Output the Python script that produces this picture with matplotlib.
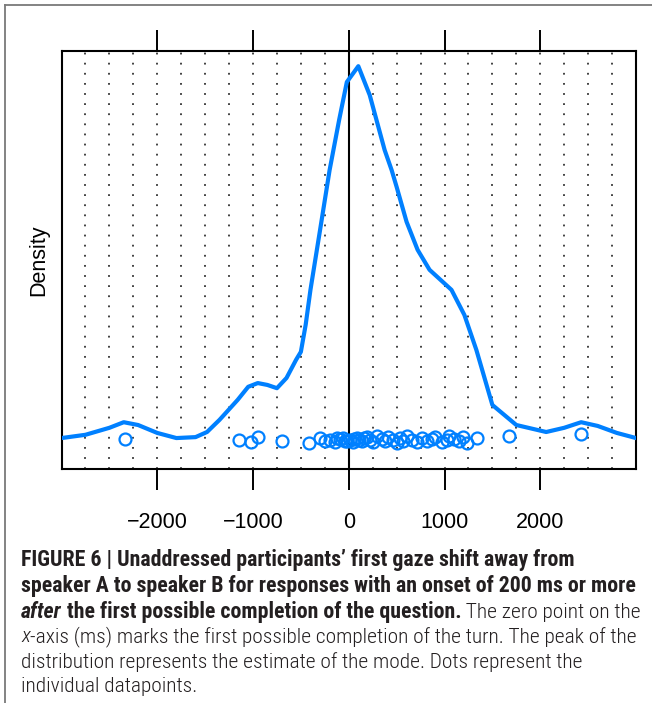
import numpy as np
import matplotlib
matplotlib.use("Agg")
import matplotlib.pyplot as plt
from matplotlib.lines import Line2D
from matplotlib.ticker import MultipleLocator
from matplotlib import font_manager as fm
from matplotlib.font_manager import FontProperties

# density curve (x in ms, density in arbitrary units)
curve_ms = [-3000, -2750, -2500, -2350, -2200, -2000, -1800, -1600, -1480, -1350,
            -1160, -1050, -950, -850, -750, -650, -550, -500, -450, -400,
            -300, -200, -100, -20, 100, 219, 375, 448, 500, 604,
            719, 844, 1073, 1208, 1333, 1500, 1750, 2062, 2250, 2427,
            2600, 2800, 3000]
curve_density = [0.02, 0.09, 0.24, 0.36, 0.30, 0.13, 0.02, 0.04, 0.15, 0.41,
                 0.84, 1.12, 1.20, 1.16, 1.09, 1.31, 1.70, 1.87, 2.45, 3.20,
                 4.48, 5.77, 6.85, 7.66, 8.00, 7.38, 6.20, 5.77, 5.41, 4.66,
                 4.06, 3.63, 3.20, 2.66, 1.91, 0.73, 0.30, 0.15, 0.24, 0.36,
                 0.28, 0.13, 0.02]

# individual datapoints (ms) and their vertical jitter
points_ms = [-2333, -1146, -1021, -948, -698, -417, -302, -250, -198, -146,
             -120, -94, -63, -40, -21, 10, 42, 60, 83, 110,
             135, 160, 188, 219, 250, 292, 344, 375, 406, 458,
             500, 531, 563, 604, 656, 708, 760, 813, 865, 896,
             969, 1021, 1052, 1104, 1156, 1188, 1240, 1344, 1677, 2427]
points_jitter = [0.00, -0.02, -0.06, 0.04, -0.04, -0.09, 0.02, -0.04, -0.02, -0.06,
                 0.03, 0.00, 0.02, -0.05, -0.04, -0.02, -0.06, 0.01, 0.02, -0.03,
                 -0.04, 0.03, 0.04, -0.02, -0.06, 0.06, 0.00, -0.04, 0.04, -0.02,
                 -0.09, 0.02, -0.04, 0.06, -0.02, -0.06, 0.02, -0.04, 0.00, 0.04,
                 -0.06, -0.02, 0.06, 0.00, -0.04, 0.04, -0.09, 0.02, 0.06, 0.11]

xticks = [-2000, -1000, 0, 1000, 2000]
xtick_labels = ["\u22122000", "\u22121000", "0", "1000", "2000"]

blue = "#0080ff"
W, H = 652, 703

fig = plt.figure(figsize=(W / 100, H / 100), dpi=100)
ax = fig.add_axes([61.5 / W, 1 - 469 / H, (636 - 61.5) / W, (469 - 51) / H])

ax.plot(curve_ms, curve_density, color=blue, lw=3.0, solid_joinstyle="round", zorder=3)
ax.plot(points_ms, points_jitter, "o", mfc="none", mec=blue, mew=1.6, ms=8.6, zorder=4)

ax.set_xlim(-3000, 3000)
ax.set_ylim(-0.644, 8.326)

# dotted reference lines every 250 ms, solid line at zero
ax.xaxis.set_minor_locator(MultipleLocator(250))
ax.grid(which="both", axis="x", color="#333333", lw=1.3, ls=(0, (1, 4.6)))
ax.axvline(0, color="black", lw=1.5, zorder=2)

ax.set_xticks(xticks)
ax.set_xticklabels(xtick_labels, fontsize=15.5, family=["Liberation Sans", "DejaVu Sans"])
ax.tick_params(axis="x", which="major", top=True, bottom=True, direction="out",
               length=15, width=1.4, pad=16)
ax.tick_params(axis="x", which="minor", length=0)
ax.set_yticks([])
for s in ax.spines.values():
    s.set_linewidth(1.5)

ax.set_ylabel("Density", fontsize=15.5, family=["Liberation Sans", "DejaVu Sans"], labelpad=9)

# frame round the figure
fig.add_artist(Line2D([5 / W, 1], [1 - 5 / H, 1 - 5 / H], transform=fig.transFigure,
                      color="#7a7a7a", lw=1.3))
fig.add_artist(Line2D([5 / W, 5 / W], [0, 1 - 5 / H], transform=fig.transFigure,
                      color="#7a7a7a", lw=1.3))

# caption font: a condensed face if one is installed
condensed = {"ultra-condensed", "extra-condensed", "condensed", "semi-condensed"}
cond_families = {f.name for f in fm.fontManager.ttflist if str(f.stretch) in condensed}
cap_family = "Liberation Sans"
for name in ["Liberation Sans Narrow", "Roboto Condensed", "Noto Sans", "Open Sans",
             "DejaVu Sans"]:
    if name in cond_families:
        cap_family = name
        break
cap_stretch = "condensed" if cap_family in cond_families else "normal"
cap_color = "#231f20"


def cap_font(weight, style, size):
    return FontProperties(family=cap_family, stretch=cap_stretch, weight=weight,
                          style=style, size=size)


caption = [
    [("FIGURE 6 | Unaddressed participants\u2019 first gaze shift away from", "bold", "normal")],
    [("speaker A to speaker B for responses with an onset of 200 ms or more", "bold", "normal")],
    [("after", "bold", "italic"),
     (" the first possible completion of the question.", "bold", "normal"),
     (" The zero point on the", "light", "normal")],
    [("x", "light", "italic"),
     ("-axis (ms) marks the first possible completion of the turn. The peak of the", "light", "normal")],
    [("distribution represents the estimate of the mode. Dots represent the", "light", "normal")],
    [("individual datapoints.", "light", "normal")],
]
line_y = [560, 586, 612, 637, 662, 687]

renderer = fig.canvas.get_renderer()


def text_width(s, weight, style, size):
    t = fig.text(0, 0, s, fontproperties=cap_font(weight, style, size))
    w = t.get_window_extent(renderer).width
    t.remove()
    return w


# size the caption so the widest lines span the same width as in the figure
bold_size = 14 * 619 / text_width(caption[1][0][0], "bold", "normal", 14)
line4 = "".join(p[0] for p in caption[3])
light_size = min(bold_size, 14 * 617 / text_width(line4, "light", "normal", 14))
sizes = {"bold": bold_size, "light": light_size}

for pieces, yp in zip(caption, line_y):
    x = 21 / W
    for s, weight, style in pieces:
        t = fig.text(x, 1 - yp / H, s, fontproperties=cap_font(weight, style, sizes[weight]),
                     color=cap_color, va="center", ha="left")
        x += t.get_window_extent(renderer).width / fig.bbox.width

fig.savefig("out.png", dpi=100)
